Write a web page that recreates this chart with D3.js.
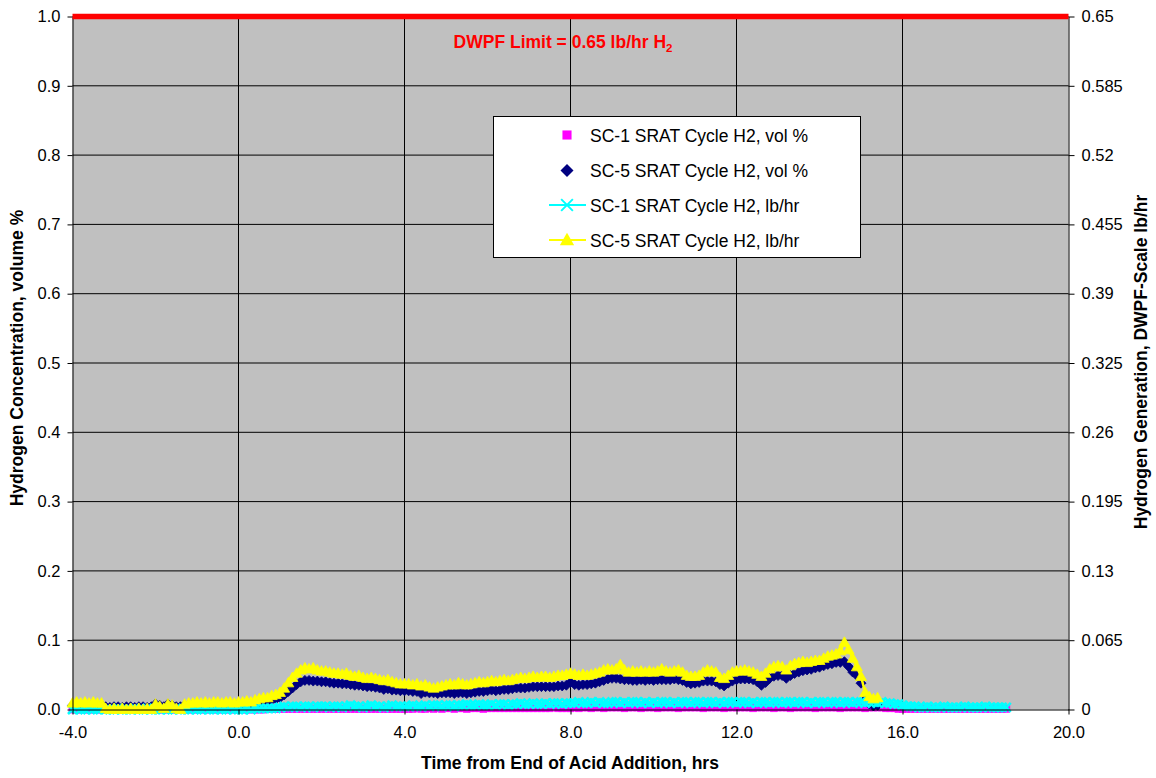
<!DOCTYPE html>
<html>
<head>
<meta charset="utf-8">
<script src="https://cdn.jsdelivr.net/npm/d3@7"></script>
<style>
  body { margin: 0; background: #ffffff; }
  svg text { font-family: "Liberation Sans", Arial, Helvetica, sans-serif; }
</style>
</head>
<body>
<svg id="chart" width="1156" height="778"></svg>
<script>
// ---- axis ticks ----
const xTickValues = [-4, 0, 4, 8, 12, 16, 20];
const xTickLabels = ["-4.0", "0.0", "4.0", "8.0", "12.0", "16.0", "20.0"];
const leftTickValues = [0, 0.1, 0.2, 0.3, 0.4, 0.5, 0.6, 0.7, 0.8, 0.9, 1.0];
const leftTickLabels = ["0.0", "0.1", "0.2", "0.3", "0.4", "0.5", "0.6", "0.7", "0.8", "0.9", "1.0"];
const rightTickValues = [0, 0.065, 0.13, 0.195, 0.26, 0.325, 0.39, 0.455, 0.52, 0.585, 0.65];
const rightTickLabels = ["0", "0.065", "0.13", "0.195", "0.26", "0.325", "0.39", "0.455", "0.52", "0.585", "0.65"];

// DWPF hydrogen generation limit, lb/hr
const dwpfLimitLbHr = 0.65;

// samples are logged every 0.1 hr starting at -4.0 hr
const sampleStartHr = -4.0;
const sampleStepHr = 0.1;

// SC-5 SRAT cycle H2, lb/hr (secondary axis), -4.0 .. 15.4 hr
const sc5LbHr = [
  0.006,0.007,0.006,0.007,0.006,0.007,0.006,0.006,
  0.001,0.000,0.001,0.000,0.001,0.000,0.001,0.000,0.001,0.000,0.001,0.000,
  0.005,0.003,0.001,0.005,0.004,0.001,0.000,
  0.005,0.006,0.006,0.007,0.006,0.007,0.006,0.007,0.007,0.006,0.007,0.007,0.006,0.007,0.007,0.008,0.007,0.009,
  0.010,0.011,0.011,0.013,0.014,0.016,
  0.020,0.025,0.030,0.034,0.037,0.039,0.038,0.039,0.037,0.036,
  0.036,0.035,0.034,0.034,0.033,0.034,0.032,0.031,0.032,0.030,
  0.029,0.030,0.029,0.028,0.027,0.028,0.026,0.025,0.024,0.024,
  0.024,0.023,0.024,0.022,0.023,0.021,0.020,0.021,0.022,0.023,
  0.024,0.023,0.025,0.024,0.023,0.024,0.025,0.026,0.025,0.026,
  0.027,0.026,0.027,0.028,0.027,0.028,0.029,0.030,0.029,0.030,
  0.031,0.030,0.031,0.031,0.030,0.031,0.032,0.032,0.033,0.034,
  0.033,0.032,0.033,0.032,0.033,0.034,0.035,0.037,0.038,0.037,
  0.038,0.042,0.037,0.035,0.036,0.035,0.036,0.035,0.036,0.035,
  0.036,0.038,0.036,0.035,0.036,0.037,0.035,0.032,0.031,0.031,
  0.032,0.035,0.037,0.036,0.035,0.030,0.029,0.032,0.035,0.036,
  0.036,0.037,0.036,0.035,0.033,0.031,0.034,0.038,0.040,0.041,
  0.040,0.037,0.041,0.043,0.044,0.045,0.044,0.045,0.046,0.046,
  0.048,0.050,0.051,0.052,0.055,0.063,0.056,0.048,0.040,0.031,
  0.016,0.012,0.010,0.011
];

// SC-5 SRAT cycle H2, vol % (primary axis), -4.0 .. 15.4 hr
const sc5VolPct = [
  0.006,0.007,0.006,0.006,0.007,0.006,0.006,0.007,
  0.004,0.003,0.004,0.004,0.003,0.004,0.004,0.003,0.004,0.004,0.003,0.004,
  0.008,0.006,0.004,0.008,0.006,0.004,0.004,
  0.006,0.007,0.007,0.008,0.007,0.008,0.007,0.008,0.008,0.007,0.008,0.008,0.007,0.008,0.008,0.009,0.008,0.010,
  0.011,0.012,0.012,0.014,0.015,0.017,
  0.021,0.026,0.031,0.036,0.040,0.042,0.042,0.041,0.041,0.040,
  0.040,0.039,0.038,0.038,0.037,0.037,0.036,0.035,0.035,0.034,
  0.033,0.033,0.032,0.031,0.029,0.030,0.028,0.028,0.027,0.027,
  0.027,0.026,0.026,0.023,0.025,0.024,0.024,0.023,0.024,0.024,
  0.024,0.023,0.024,0.024,0.023,0.024,0.025,0.026,0.026,0.027,
  0.028,0.027,0.028,0.029,0.029,0.030,0.031,0.031,0.031,0.032,
  0.033,0.033,0.033,0.033,0.033,0.033,0.034,0.034,0.035,0.039,
  0.036,0.035,0.036,0.036,0.037,0.038,0.040,0.042,0.044,0.045,
  0.045,0.044,0.043,0.043,0.042,0.042,0.043,0.042,0.043,0.042,
  0.043,0.043,0.043,0.043,0.044,0.043,0.042,0.039,0.037,0.038,
  0.039,0.041,0.041,0.041,0.040,0.036,0.034,0.038,0.041,0.043,
  0.044,0.044,0.044,0.043,0.040,0.035,0.039,0.045,0.048,0.049,
  0.049,0.045,0.049,0.052,0.054,0.056,0.057,0.058,0.060,0.061,
  0.063,0.065,0.066,0.068,0.068,0.069,0.062,0.054,0.049,0.038,
  0.014,0.008,0.005,0.006
];

// SC-1 SRAT cycle H2, lb/hr (secondary axis), -4.0 .. 18.5 hr
const sc1LbHr = [
  0.000,0.001,0.000,0.000,0.001,0.000,0.000,0.001,0.000,0.000,
  0.000,0.001,0.000,0.000,0.000,0.001,0.000,0.000,0.001,0.000,
  0.000,0.000,0.001,0.000,0.000,0.001,0.000,0.000,0.000,0.001,
  0.000,0.000,0.001,0.000,0.000,0.001,0.000,0.000,0.001,0.000,
  0.000,0.000,0.001,0.000,0.001,0.001,0.001,0.001,0.001,0.001,
  0.002,0.003,0.002,0.003,0.003,0.002,0.003,0.003,0.002,0.003,0.003,
  0.003,0.002,0.003,0.003,0.002,0.003,0.004,0.003,0.003,0.002,
  0.003,0.004,0.003,0.003,0.002,0.003,0.004,0.003,0.003,0.003,
  0.003,0.004,0.003,0.003,0.004,0.003,0.004,0.004,0.003,0.004,
  0.004,0.003,0.004,0.004,0.005,0.004,0.004,0.005,0.004,0.004,
  0.005,0.004,0.005,0.005,0.004,0.005,0.005,0.006,0.005,0.005,
  0.006,0.005,0.005,0.006,0.005,0.006,0.006,0.005,0.006,0.006,
  0.006,0.007,0.006,0.006,0.007,0.006,0.007,0.006,0.006,0.007,
  0.007,0.006,0.007,0.006,0.007,0.007,0.006,0.007,0.006,0.007,
  0.006,0.007,0.007,0.006,0.007,0.006,0.007,0.007,0.006,0.007,
  0.007,0.006,0.007,0.007,0.006,0.007,0.006,0.007,0.007,0.006,
  0.007,0.007,0.006,0.007,0.006,0.007,0.007,0.006,0.007,0.007,
  0.006,0.007,0.007,0.006,0.007,0.007,0.006,0.007,0.006,0.007,
  0.007,0.006,0.007,0.007,0.006,0.007,0.007,0.006,0.007,0.007,
  0.006,0.007,0.007,0.006,0.007,
  0.006,0.006,0.005,0.005,0.004,0.003,0.003,
  0.003,0.002,0.002,0.003,0.002,0.002,0.002,0.003,0.002,0.002,
  0.002,0.002,0.003,0.002,0.002,0.002,0.002,0.003,0.002,0.002,
  0.002,0.002,0.002
];

// SC-1 SRAT cycle H2, vol % (primary axis), -4.0 .. 18.5 hr
const sc1VolPct = [
  0.000,0.000,0.000,0.000,0.000,0.000,0.000,0.000,0.000,0.000,
  0.000,0.000,0.000,0.000,0.000,0.000,0.000,0.000,0.000,0.000,
  0.000,0.000,0.000,0.000,0.000,0.000,0.000,0.000,0.000,0.000,
  0.000,0.000,0.000,0.000,0.000,0.000,0.000,0.000,0.000,0.000,
  0.000,0.000,0.000,0.000,0.000,0.000,0.000,0.001,0.001,0.001,
  0.001,0.001,0.001,0.001,0.001,0.001,0.001,0.001,0.001,0.001,0.001,
  0.001,0.001,0.001,0.001,0.001,0.001,0.001,0.001,0.001,0.001,
  0.001,0.001,0.001,0.001,0.001,0.001,0.001,0.001,0.001,0.001,
  0.001,0.001,0.002,0.001,0.001,0.002,0.001,0.002,0.001,0.002,
  0.002,0.001,0.002,0.002,0.001,0.002,0.002,0.002,0.001,0.002,
  0.002,0.002,0.002,0.002,0.002,0.002,0.002,0.002,0.002,0.002,
  0.002,0.002,0.002,0.002,0.002,0.007,0.002,0.002,0.002,0.002,
  0.003,0.002,0.003,0.003,0.002,0.003,0.003,0.002,0.003,0.003,
  0.003,0.003,0.002,0.003,0.003,0.003,0.002,0.003,0.003,0.003,
  0.002,0.003,0.003,0.003,0.003,0.002,0.003,0.003,0.003,0.003,
  0.003,0.002,0.003,0.003,0.003,0.003,0.002,0.003,0.003,0.003,
  0.003,0.003,0.003,0.002,0.003,0.003,0.003,0.003,0.002,0.003,
  0.003,0.003,0.002,0.003,0.003,0.003,0.003,0.003,0.002,0.003,
  0.003,0.003,0.003,0.003,0.002,0.003,0.003,0.003,0.003,0.003,
  0.002,0.003,0.003,0.003,0.003,
  0.002,0.002,0.002,0.001,0.001,0.001,0.001,
  0.001,0.001,0.001,0.001,0.001,0.001,0.001,0.001,0.001,0.001,
  0.001,0.001,0.001,0.001,0.001,0.001,0.001,0.001,0.001,0.001,
  0.001,0.001,0.001
];

const seriesNames = [
  "SC-1 SRAT Cycle H2, vol %",
  "SC-5 SRAT Cycle H2, vol %",
  "SC-1 SRAT Cycle H2, lb/hr",
  "SC-5 SRAT Cycle H2, lb/hr"
];

// ---- layout ----
const svg = d3.select("#chart");
const plot = { left: 72.5, right: 1068.5, top: 16.5, bottom: 709.5 };

const x = d3.scaleLinear().domain([-4, 20]).range([plot.left, plot.right]);
const yLeft = d3.scaleLinear().domain([0, 1]).range([plot.bottom, plot.top]);
const yRight = d3.scaleLinear().domain([0, 0.65]).range([plot.bottom, plot.top]);

const hourAt = i => +(sampleStartHr + i * sampleStepHr).toFixed(1);
const toPoints = vals => vals.map((v, i) => ({ h: hourAt(i), v }));

// plot area background
svg.append("rect")
  .attr("x", plot.left).attr("y", plot.top)
  .attr("width", plot.right - plot.left).attr("height", plot.bottom - plot.top)
  .attr("fill", "#C0C0C0");

// gridlines
const grid = svg.append("g").attr("stroke", "#000").attr("stroke-width", 1);
grid.selectAll("line.h").data(leftTickValues.slice(1)).join("line")
  .attr("x1", plot.left).attr("x2", plot.right)
  .attr("y1", d => yLeft(d)).attr("y2", d => yLeft(d));
grid.selectAll("line.v").data(xTickValues.slice(1, -1)).join("line")
  .attr("x1", d => x(d)).attr("x2", d => x(d))
  .attr("y1", plot.top).attr("y2", plot.bottom);

// marker shapes
const markerPaths = {
  square: "M-3.5,-3.5h7v7h-7Z",
  diamond: "M0,-5L5,0L0,5L-5,0Z",
  cross: "M-4.5,-4.5L4.5,4.5M4.5,-4.5L-4.5,4.5",
  triangle: "M0,-5.5L5.5,4L-5.5,4Z"
};

function drawSeries(vals, yScale, color, marker, withLine) {
  const pts = toPoints(vals);
  const g = svg.append("g");
  if (withLine) {
    g.append("path")
      .datum(pts)
      .attr("fill", "none")
      .attr("stroke", color)
      .attr("stroke-width", 2.5)
      .attr("d", d3.line().x(d => x(d.h)).y(d => yScale(d.v)));
  }
  const m = g.selectAll("path.m").data(pts).join("path")
    .attr("class", "m")
    .attr("d", markerPaths[marker])
    .attr("transform", d => `translate(${x(d.h)},${yScale(d.v)})`);
  if (marker === "cross") {
    m.attr("fill", "none").attr("stroke", color).attr("stroke-width", 2.6);
  } else {
    m.attr("fill", color).attr("stroke", color).attr("stroke-width", 0.8);
  }
}

drawSeries(sc1VolPct, yLeft, "#FF00FF", "square", false);
drawSeries(sc5VolPct, yLeft, "#000080", "diamond", false);
drawSeries(sc1LbHr, yRight, "#00FFFF", "cross", true);
drawSeries(sc5LbHr, yRight, "#FFFF00", "triangle", true);

const limitText = svg.append("text")
  .attr("x", 563).attr("y", 48)
  .attr("text-anchor", "middle")
  .attr("fill", "#FF0000")
  .attr("font-weight", "bold")
  .attr("font-size", 17.5);
limitText.append("tspan").text(`DWPF Limit = ${dwpfLimitLbHr} lb/hr H`);
limitText.append("tspan").attr("font-size", 11.5).attr("dy", 4).text("2");

// axes
function styleAxis(g) {
  g.selectAll("text").attr("font-size", 16.5).attr("fill", "#000")
    .attr("font-family", "\"Liberation Sans\", Arial, sans-serif");
  g.selectAll("line").attr("stroke", "#000");
  g.select(".domain").attr("stroke", "#000");
}

svg.append("g")
  .attr("transform", `translate(${plot.left},0)`)
  .call(d3.axisLeft(yLeft).tickValues(leftTickValues)
    .tickFormat((d, i) => leftTickLabels[i]).tickSize(5).tickSizeOuter(0).tickPadding(7))
  .call(styleAxis);

svg.append("g")
  .attr("transform", `translate(${plot.right},0)`)
  .call(d3.axisRight(yRight).tickValues(rightTickValues)
    .tickFormat((d, i) => rightTickLabels[i]).tickSize(6).tickSizeOuter(0).tickPadding(7))
  .call(styleAxis);

svg.append("g")
  .attr("transform", `translate(0,${plot.bottom})`)
  .call(d3.axisBottom(x).tickValues(xTickValues)
    .tickFormat((d, i) => xTickLabels[i]).tickSize(5).tickSizeOuter(0).tickPadding(12))
  .call(styleAxis);

// DWPF limit line
svg.append("line")
  .attr("x1", plot.left).attr("x2", plot.right)
  .attr("y1", yRight(dwpfLimitLbHr)).attr("y2", yRight(dwpfLimitLbHr))
  .attr("stroke", "#FF0000").attr("stroke-width", 5.5);

// axis titles
svg.append("text")
  .attr("x", 570).attr("y", 769)
  .attr("text-anchor", "middle").attr("font-weight", "bold").attr("font-size", 17.5)
  .text("Time from End of Acid Addition, hrs");

svg.append("text")
  .attr("transform", "translate(23,358) rotate(-90)")
  .attr("text-anchor", "middle").attr("font-weight", "bold").attr("font-size", 17.5)
  .text("Hydrogen Concentration, volume %");

svg.append("text")
  .attr("transform", "translate(1147,362) rotate(-90)")
  .attr("text-anchor", "middle").attr("font-weight", "bold").attr("font-size", 17.5)
  .text("Hydrogen Generation, DWPF-Scale lb/hr");

// legend
const legend = svg.append("g");
legend.append("rect")
  .attr("x", 493.5).attr("y", 116.5).attr("width", 367).attr("height", 141)
  .attr("fill", "#fff").attr("stroke", "#000").attr("stroke-width", 1);

const legendItems = [
  { name: seriesNames[0], color: "#FF00FF", marker: "square", line: false },
  { name: seriesNames[1], color: "#000080", marker: "diamond", line: false },
  { name: seriesNames[2], color: "#00FFFF", marker: "cross", line: true },
  { name: seriesNames[3], color: "#FFFF00", marker: "triangle", line: true }
];
const legendRowY = [135, 170.5, 205, 240];

legendItems.forEach((it, i) => {
  const cy = legendRowY[i];
  if (it.line) {
    legend.append("line").attr("x1", 549).attr("x2", 586)
      .attr("y1", cy).attr("y2", cy)
      .attr("stroke", it.color).attr("stroke-width", 2);
  }
  const mk = legend.append("path")
    .attr("d", markerPaths[it.marker])
    .attr("transform", `translate(567,${cy}) scale(1.3)`);
  if (it.marker === "cross") {
    mk.attr("fill", "none").attr("stroke", it.color).attr("stroke-width", 1.5);
  } else {
    mk.attr("fill", it.color);
  }
  legend.append("text")
    .attr("x", 590).attr("y", cy + 6.5)
    .attr("font-size", 17.5).attr("fill", "#000")
    .text(it.name);
});
</script>
</body>
</html>
